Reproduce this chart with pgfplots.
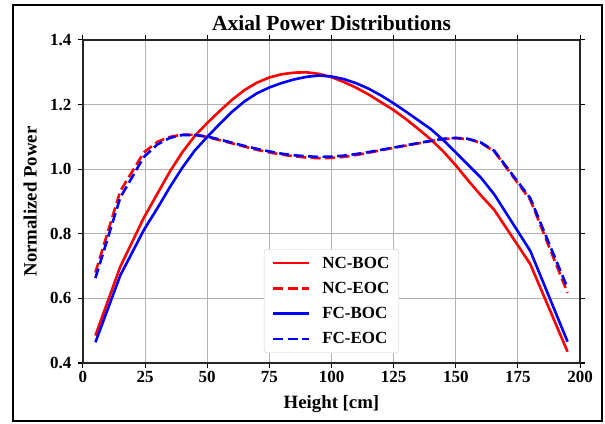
\documentclass[border=0pt]{standalone}
\usepackage{fontspec}
\setmainfont{Liberation Serif}
\usepackage{pgfplots}
\usepackage{pgfplotstable}
\pgfplotsset{compat=1.18}

\definecolor{gridgray}{HTML}{B0B0B0}
\definecolor{legedge}{HTML}{CCCCCC}
\newcommand\tickfont{\fontsize{17}{20}\selectfont\bfseries}
\newcommand\labfont{\fontsize{18.8}{22}\selectfont\bfseries}
\newcommand\titfont{\fontsize{21.5}{25}\selectfont\bfseries}

% height [cm] vs normalized power
\pgfplotstableread{
x     ncb   nce   fcb   fce
5     0.485 0.680 0.464 0.663
15    0.698 0.932 0.671 0.912
24.5  0.850 1.052 0.812 1.038
30    0.925 1.085 0.880 1.077
35    0.993 1.100 0.945 1.097
40    1.053 1.107 1.005 1.106
45    1.103 1.106 1.058 1.106
50    1.143 1.100 1.100 1.101
55    1.180 1.090 1.140 1.092
60    1.215 1.080 1.178 1.082
65    1.245 1.070 1.210 1.072
70    1.268 1.060 1.235 1.063
75    1.284 1.052 1.253 1.055
80    1.294 1.045 1.267 1.048
85    1.299 1.040 1.278 1.043
90    1.300 1.036 1.286 1.040
95    1.295 1.034 1.290 1.038
100   1.285 1.035 1.287 1.039
105   1.270 1.038 1.279 1.042
110   1.252 1.044 1.266 1.047
115   1.231 1.051 1.249 1.053
120   1.207 1.059 1.228 1.060
125   1.183 1.066 1.204 1.067
130   1.155 1.073 1.178 1.074
135   1.124 1.080 1.151 1.081
140   1.092 1.087 1.124 1.088
145   1.055 1.093 1.090 1.094
150   1.012 1.096 1.052 1.097
155   0.965 1.093 1.013 1.094
160   0.920 1.082 0.975 1.083
165.5 0.874 1.055 0.922 1.057
180   0.706 0.905 0.747 0.910
195   0.435 0.617 0.466 0.632
}\powertab

\begin{document}
\begin{tikzpicture}
\useasboundingbox (-83pt,-60pt) rectangle (522pt,363pt);
\draw[line width=2pt] (-70pt,-58pt) rectangle (519pt,358pt);
\begin{axis}[
    at={(0pt,0pt)}, anchor=south west,
    scale only axis,
    width=497pt, height=323pt,
    xmin=0, xmax=200, ymin=0.4, ymax=1.4,
    xtick={0,25,...,200},
    ytick={0.4,0.6,0.8,1.0,1.2,1.4},
    tick label style={font=\tickfont},
    yticklabel style={xshift=-3pt, /pgf/number format/.cd,fixed,fixed zerofill,precision=1},
    /pgf/number format/assume math mode=true,
    tick align=outside,
    major tick length=5pt,
    major tick style={line width=1pt, black},
    axis line style={line width=1.2pt, black!85},
    grid=major,
    grid style={line width=0.9pt, gridgray},
    title={Axial Power Distributions},
    title style={font=\titfont, at={(axis description cs:0.5,1.034)}, anchor=center},
    xlabel={Height [cm]},
    ylabel={Normalized Power},
    xlabel style={font=\labfont, at={(axis description cs:0.5,-0.127)}, anchor=center},
    ylabel style={font=\labfont, at={(axis description cs:-0.106,0.5)}, anchor=center},
    legend style={font=\tickfont, at={(axis description cs:0.5,0.031)}, anchor=south,
        draw=legedge, rounded corners=3pt, fill=white,
        inner xsep=8pt, inner ysep=6pt, row sep=9.5pt,
        nodes={inner sep=1.5pt},
        /tikz/every odd column/.append style={column sep=10pt}},
    legend cell align=left,
    legend image code/.code={\draw[#1, line width=2.6pt, sharp corners] (0pt,0pt) -- (36pt,0pt);},
    every axis plot/.append style={line width=2.6pt, line join=round},
]
\addplot[red] table[x=x, y=ncb] {\powertab};
\addlegendentry{NC-BOC}
\addplot[red, dash pattern=on 10pt off 4.5pt] table[x=x, y=nce] {\powertab};
\addlegendentry{NC-EOC}
\addplot[blue] table[x=x, y=fcb] {\powertab};
\addlegendentry{FC-BOC}
\addplot[blue, dash pattern=on 10pt off 4.5pt] table[x=x, y=fce] {\powertab};
\addlegendentry{FC-EOC}
\end{axis}
\end{tikzpicture}
\end{document}
